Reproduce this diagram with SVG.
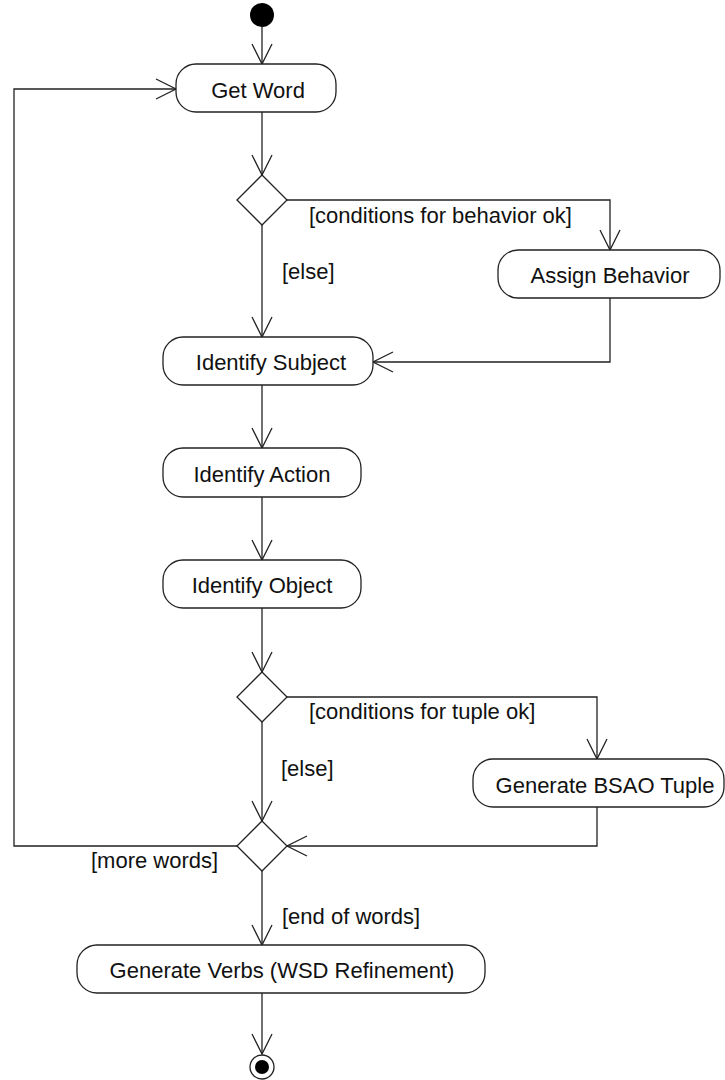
<svg xmlns="http://www.w3.org/2000/svg" width="725" height="1080" viewBox="0 0 725 1080">
  <style>
    .act { fill: #fff; stroke: #222; stroke-width: 1.3; }
    .dec { fill: #fff; stroke: #222; stroke-width: 1.3; }
    .flow { fill: none; stroke: #222; stroke-width: 1.3; marker-end: url(#open); }
    .name { font-family: "Liberation Sans", Arial, sans-serif; font-size: 22px; fill: #111; text-anchor: middle; }
    .guard { font-family: "Liberation Sans", Arial, sans-serif; font-size: 22px; fill: #111; }
  </style>
  <defs>
    <marker id="open" markerUnits="userSpaceOnUse" markerWidth="24" markerHeight="24" viewBox="-22 -12 24 24" refX="0" refY="0" orient="auto">
      <path d="M-20,-10 L0,0 L-20,10" fill="none" stroke="#222" stroke-width="1.3"/>
    </marker>
  </defs>

  <rect width="725" height="1080" fill="#fff"/>

  <!-- control flow -->
  <g id="connectors">
    <path class="flow" d="M262,27 L262,64"/>
    <path class="flow" d="M262,112 L262,175"/>
    <path class="flow" d="M287,200 L610,200 L610,250"/>
    <path class="flow" d="M262,225 L262,337"/>
    <path class="flow" d="M610,298 L610,362 L373,362"/>
    <path class="flow" d="M262,385 L262,448"/>
    <path class="flow" d="M262,497 L262,560"/>
    <path class="flow" d="M262,608 L262,672"/>
    <path class="flow" d="M287,697 L597,697 L597,759"/>
    <path class="flow" d="M262,722 L262,821"/>
    <path class="flow" d="M597,807 L597,846 L287,846"/>
    <path class="flow" d="M237,846 L14,846 L14,89 L176,89"/>
    <path class="flow" d="M262,871 L262,945"/>
    <path class="flow" d="M262,993 L262,1054"/>

    <text class="guard" x="309" y="223">[conditions for behavior ok]</text>
    <text class="guard" x="282" y="279">[else]</text>
    <text class="guard" x="309" y="719">[conditions for tuple ok]</text>
    <text class="guard" x="281" y="776">[else]</text>
    <text class="guard" x="91" y="868">[more words]</text>
    <text class="guard" x="282" y="924">[end of words]</text>
  </g>

  <g id="start">
    <circle cx="262" cy="15" r="12" fill="#000"/>
  </g>

  <g id="get-word">
    <rect class="act" x="176" y="64" width="160" height="48" rx="20"/>
    <text class="name" x="258" y="98">Get Word</text>
  </g>

  <g id="behavior-check">
    <polygon class="dec" points="262,175 287,200 262,225 237,200"/>
  </g>

  <g id="assign-behavior">
    <rect class="act" x="498" y="250" width="222" height="48" rx="20"/>
    <text class="name" x="610" y="283">Assign Behavior</text>
  </g>

  <g id="identify-subject">
    <rect class="act" x="163" y="337" width="210" height="48" rx="20"/>
    <text class="name" x="271" y="370">Identify Subject</text>
  </g>

  <g id="identify-action">
    <rect class="act" x="163" y="448" width="198" height="49" rx="20"/>
    <text class="name" x="262" y="482">Identify Action</text>
  </g>

  <g id="identify-object">
    <rect class="act" x="163" y="560" width="198" height="48" rx="20"/>
    <text class="name" x="262" y="593">Identify Object</text>
  </g>

  <g id="tuple-check">
    <polygon class="dec" points="262,672 287,697 262,722 237,697"/>
  </g>

  <g id="generate-tuple">
    <rect class="act" x="473" y="759" width="251" height="48" rx="20"/>
    <text class="name" x="605" y="793">Generate BSAO Tuple</text>
  </g>

  <g id="words-check">
    <polygon class="dec" points="262,821 287,846 262,871 237,846"/>
  </g>

  <g id="generate-verbs">
    <rect class="act" x="77" y="945" width="408" height="48" rx="20"/>
    <text class="name" x="282" y="978">Generate Verbs (WSD Refinement)</text>
  </g>

  <g id="end">
    <circle cx="262" cy="1067" r="12" fill="#fff" stroke="#222" stroke-width="1.3"/>
    <circle cx="262" cy="1067" r="7" fill="#000"/>
  </g>
</svg>
